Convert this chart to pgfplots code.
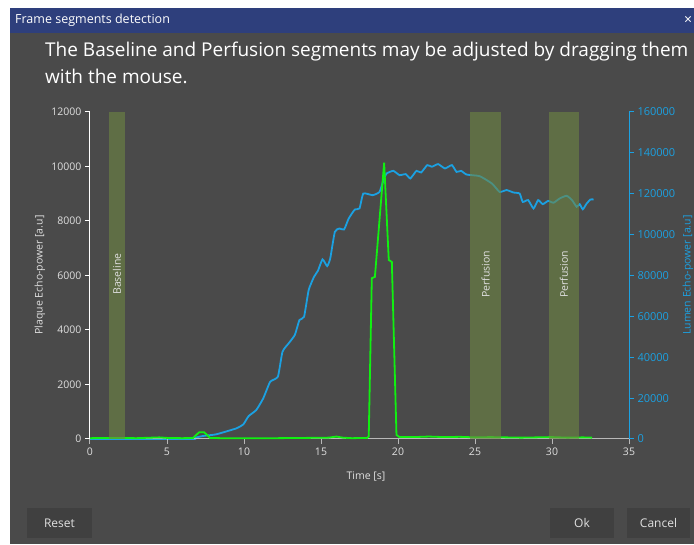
\documentclass[border=0pt]{standalone}
\usepackage{pgfplots}
\pgfplotsset{compat=1.18}
\usepackage{fontspec}
\setmainfont{Open Sans}
\definecolor{bg}{HTML}{4A4A4A}
\definecolor{titlec}{HTML}{2E3F7C}
\definecolor{bluec}{HTML}{1BA1E2}
\definecolor{greenc}{HTML}{11F011}
\definecolor{bandc}{RGB}{109,134,67}
\definecolor{labc}{HTML}{E0E0E0}
\definecolor{btnc}{HTML}{404040}
\definecolor{axc}{HTML}{B8B8B8}
\pgfplotstableread{
t v
0 0
6.6 0
6.75 500
7.36 1500
8.2 2300
9.5 5200
9.96 7200
10.3 11200
10.8 14200
11.25 19900
11.7 28000
12.2 30500
12.5 42700
12.9 46800
13.3 50900
13.6 58200
13.9 59800
14.2 72900
14.55 79400
14.8 82300
15.1 87900
15.4 84600
15.6 88400
15.9 101400
16.2 103000
16.5 102500
16.8 107900
17.2 112300
17.5 112800
17.75 120100
18.35 119300
18.8 120900
19.05 126600
19.26 129900
19.7 131200
20.1 129100
20.5 129600
20.8 127500
21.2 131200
21.5 130400
21.9 134000
22.2 133200
22.6 134500
23.05 132400
23.5 134000
23.8 130700
24.1 131200
24.45 129400
25.3 128600
26.1 125000
26.6 120900
27.05 121800
27.5 120600
27.9 120100
28.1 116000
28.45 116900
28.8 112800
29.1 116900
29.4 114900
29.75 116500
30.1 115600
30.5 117700
30.95 119000
31.3 116900
31.6 113600
31.8 114900
32.0 112400
32.25 115200
32.5 117200
32.7 117200
}\lumen
\pgfplotstableread{
t v
0 30
1 40
2 40
3 30
4 50
4.5 60
5 40
6 30
6.7 40
6.9 150
7.1 250
7.4 250
7.6 150
7.8 40
8.5 30
10 30
12 30
14 40
15.5 50
16 90
16.4 50
17 30
18.0 40
18.1 100
18.3 5900
18.5 5950
19.1 10140
19.4 6570
19.6 6500
19.9 150
20.1 70
21 70
22 90
23 70
24 80
25 60
26 70
27 60
28 50
29 60
30 70
31 50
32 60
32.6 50
}\plaque
\begin{document}
\begin{tikzpicture}
\path[use as bounding box] (0pt,0pt) rectangle (694pt,544pt);
\begin{scope}[x=1pt,y=1pt]
\fill[white] (0,0) rectangle (694,544);
\fill[bg] (10,0) rectangle (694,536);
\fill[titlec] (10,511) rectangle (694,536);
\node[anchor=west, text=white, font=\fontsize{12.5}{14}\selectfont, inner sep=0] at (15,523.5) {Frame segments detection};
\node[anchor=center, text=white, font=\fontsize{14}{14}\selectfont, inner sep=0] at (688,523.5) {×};
\node[anchor=base west, text=white, font=\fontsize{19}{22}\selectfont, inner sep=0] at (45,487) {The Baseline and Perfusion segments may be adjusted by dragging them};
\node[anchor=base west, text=white, font=\fontsize{19}{22}\selectfont, inner sep=0] at (45,460) {with the mouse.};
% buttons
\fill[btnc] (27,6) rectangle (92,36);
\fill[btnc] (550,6) rectangle (614,36);
\fill[btnc] (627,6) rectangle (690,36);
\node[text=labc, font=\fontsize{12}{14}\selectfont] at (59.5,21) {Reset};
\node[text=labc, font=\fontsize{12}{14}\selectfont] at (582,21) {Ok};
\node[text=labc, font=\fontsize{12}{14}\selectfont] at (658.5,21) {Cancel};
\end{scope}
% lumen axis (right)
\begin{axis}[at={(90pt,105pt)}, anchor=south west, scale only axis,
  width=539pt, height=327pt, xmin=0, xmax=35, ymin=0, ymax=160000,
  axis y line*=right, axis x line=none,
  y axis line style={bluec, line width=1pt},
  ytick={0,20000,40000,60000,80000,100000,120000,140000,160000},
  yticklabels={0,20000,40000,60000,80000,100000,120000,140000,160000},
  scaled y ticks=false,
  yticklabel style={text=bluec, font=\fontsize{11}{12}\selectfont},
  tick align=outside, major tick length=5pt,
  ytick style={bluec, line width=1pt},
  clip=false]
\addplot[bluec, line width=1.8pt, smooth, tension=0.3] table[x=t,y=v] {\lumen};
\end{axis}
% plaque axis (left)
\begin{axis}[at={(90pt,105pt)}, anchor=south west, scale only axis,
  width=539pt, height=327pt, xmin=0, xmax=35, ymin=0, ymax=12000,
  axis y line*=left, axis x line*=bottom,
  y axis line style={white, line width=1pt},
  x axis line style={axc, line width=1pt},
  ytick={0,2000,4000,6000,8000,10000,12000},
  yticklabels={0,2000,4000,6000,8000,10000,12000},
  xtick={0,5,10,15,20,25,30,35},
  xticklabels={0,5,10,15,20,25,30,35},
  scaled y ticks=false,
  ticklabel style={text=labc, font=\fontsize{10.5}{12}\selectfont},
  tick align=outside, major tick length=5pt,
  ytick style={white, line width=1pt},
  xtick style={axc, line width=1pt},
  clip=false]
\addplot[greenc, line width=1.8pt] table[x=t,y=v] {\plaque};
\addplot[fill=bandc, fill opacity=0.6, draw=none] coordinates {(1.23,0) (2.27,0) (2.27,12000) (1.23,12000)} -- cycle;
\addplot[fill=bandc, fill opacity=0.6, draw=none] coordinates {(24.7,0) (26.7,0) (26.7,12000) (24.7,12000)} -- cycle;
\addplot[fill=bandc, fill opacity=0.6, draw=none] coordinates {(29.8,0) (31.75,0) (31.75,12000) (29.8,12000)} -- cycle;
\node[rotate=90, text=labc, font=\fontsize{10.5}{12}\selectfont] at (axis cs:1.75,6050) {Baseline};
\node[rotate=90, text=labc, font=\fontsize{10.5}{12}\selectfont] at (axis cs:25.7,6050) {Perfusion};
\node[rotate=90, text=labc, font=\fontsize{10.5}{12}\selectfont] at (axis cs:30.78,6050) {Perfusion};
\end{axis}
\begin{scope}[x=1pt,y=1pt]
\node[rotate=90, text=labc, font=\fontsize{10.5}{12}\selectfont] at (40,269) {Plaque Echo-power [a.u]};
\node[rotate=90, text=bluec, font=\fontsize{10.5}{12}\selectfont, inner sep=0] at (688,269) {Lumen Echo-power [a.u]};
\node[text=labc, font=\fontsize{10.5}{12}\selectfont] at (366,68) {Time [s]};
\end{scope}
\end{tikzpicture}
\end{document}
